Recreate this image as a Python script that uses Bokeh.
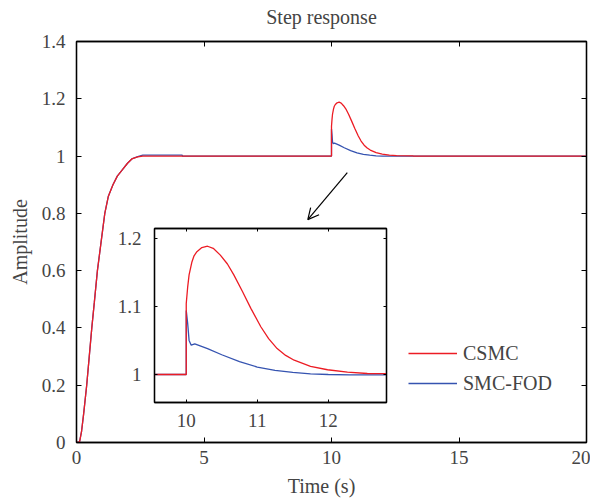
from bokeh.plotting import figure
from bokeh.models import (LinearAxis, FixedTicker, Arrow, OpenHead,
                          Legend, LegendItem)
from bokeh.layouts import column
from bokeh.embed import file_html
from bokeh.resources import INLINE

# ---------------- data ----------------
t_csmc = [0, 0.12, 0.2, 0.28, 0.4, 0.5, 0.6, 0.7, 0.82, 0.95, 1.11, 1.25, 1.43,
          1.6, 1.78, 2.0, 2.17, 2.4, 2.6, 4.2, 10.0, 10.0, 10.02, 10.04, 10.08,
          10.11, 10.15, 10.22, 10.3, 10.38, 10.48, 10.58, 10.67, 10.79, 10.91,
          11.05, 11.16, 11.28, 11.4, 11.52, 11.75, 11.99, 12.27, 12.55, 13.2,
          13.2, 20.0]
y_csmc = [0, 0.002, 0.04, 0.1, 0.2, 0.3, 0.4, 0.49, 0.6, 0.69, 0.8, 0.86, 0.9,
          0.93, 0.95, 0.975, 0.99, 0.997, 1.0, 1.0, 1.0, 1.104, 1.128, 1.146,
          1.165, 1.174, 1.18, 1.186, 1.188, 1.185, 1.175, 1.162, 1.146, 1.122,
          1.097, 1.07, 1.0525, 1.038, 1.028, 1.021, 1.012, 1.007, 1.0034,
          1.0015, 1.001, 1.0, 1.0]

t_fod = [0, 0.12, 0.2, 0.28, 0.4, 0.5, 0.6, 0.7, 0.82, 0.95, 1.11, 1.25, 1.43,
         1.6, 1.78, 2.0, 2.17, 2.4, 2.6, 4.15, 4.15, 10.0, 10.0, 10.02, 10.04,
         10.07, 10.12, 10.3, 10.5, 10.75, 11.0, 11.25, 11.5, 11.75, 12.0, 12.3,
         20.0]
y_fod = [0, 0.002, 0.04, 0.1, 0.2, 0.3, 0.4, 0.49, 0.6, 0.69, 0.8, 0.86, 0.9,
         0.93, 0.95, 0.975, 0.99, 0.998, 1.003, 1.003, 1.0, 1.0, 1.094, 1.075,
         1.05, 1.043, 1.045, 1.038, 1.029, 1.019, 1.011, 1.006, 1.003, 1.001,
         1.0, 0.9995, 0.9995]

series_names = ["CSMC", "SMC-FOD"]
series_colors = ["#ec1c24", "#3553b0"]

x_ticks = [0, 5, 10, 15, 20]
x_tick_labels = ["0", "5", "10", "15", "20"]
y_ticks = [0, 0.2, 0.4, 0.6, 0.8, 1.0, 1.2, 1.4]
y_tick_labels = ["0", "0.2", "0.4", "0.6", "0.8", "1", "1.2", "1.4"]

inset_x_ticks = [10, 11, 12]
inset_x_tick_labels = ["10", "11", "12"]
inset_y_ticks = [1.0, 1.1, 1.2]
inset_y_tick_labels = ["1", "1.1", "1.2"]

title_text = "Step response"
x_label = "Time (s)"
y_label = "Amplitude"

FONT = "Liberation Serif"

# ---------------- main figure ----------------
W, H = 590, 499
# frame in picture pixels: left 76, top 41, right 586, bottom 442
p = figure(width=W, height=H, x_range=(0, 20), y_range=(0, 1.4),
           toolbar_location=None, output_backend="svg", frame_align=False,
           min_border_left=76, min_border_right=W - 586, min_border_top=41,
           min_border_bottom=H - 442, outline_line_color="black",
           outline_line_width=1.3)
p.grid.visible = False


def style_axis(ax, size, tick_len, standoff):
    ax.axis_line_color = "black"
    ax.axis_line_width = 1.3
    ax.major_tick_in = tick_len
    ax.major_tick_out = 0
    ax.major_tick_line_color = "black"
    ax.major_tick_line_width = 1
    ax.minor_tick_line_color = None
    ax.major_label_text_font = FONT
    ax.major_label_text_font_size = size
    ax.major_label_standoff = standoff


p.xaxis[0].ticker = FixedTicker(ticks=x_ticks)
p.xaxis[0].major_label_overrides = dict(zip(x_ticks, x_tick_labels))
style_axis(p.xaxis[0], "19px", 5, 8)
p.yaxis[0].ticker = FixedTicker(ticks=y_ticks)
p.yaxis[0].major_label_overrides = dict(zip(y_ticks, y_tick_labels))
style_axis(p.yaxis[0], "19px", 5, 11)
p.yaxis[0].axis_label = y_label
p.yaxis[0].axis_label_text_font = FONT
p.yaxis[0].axis_label_text_font_size = "20px"
p.yaxis[0].axis_label_text_font_style = "normal"
p.yaxis[0].axis_label_standoff = 8

top_ax = LinearAxis(ticker=FixedTicker(ticks=x_ticks),
                    major_label_overrides={v: "" for v in x_ticks})
style_axis(top_ax, "1px", 5, 0)
p.add_layout(top_ax, "above")
right_ax = LinearAxis(ticker=FixedTicker(ticks=y_ticks),
                      major_label_overrides={v: "" for v in y_ticks})
style_axis(right_ax, "1px", 5, 0)
p.add_layout(right_ax, "right")

r_fod = p.line(t_fod, y_fod, line_color=series_colors[1], line_width=1.3)
r_csmc = p.line(t_csmc, y_csmc, line_color=series_colors[0], line_width=1.3)

legend = Legend(items=[LegendItem(label=series_names[0], renderers=[r_csmc]),
                       LegendItem(label=series_names[1], renderers=[r_fod])],
                location=(332, 47), border_line_color=None,
                background_fill_alpha=0, label_text_font=FONT,
                label_text_font_size="20px", glyph_width=49, glyph_height=24,
                label_height=24, spacing=6, padding=0, margin=0,
                label_standoff=6)
p.add_layout(legend)

arrow_start = (10.62, 0.942)
arrow_end = (9.07, 0.778)
p.add_layout(Arrow(x_start=arrow_start[0], y_start=arrow_start[1],
                   x_end=arrow_end[0], y_end=arrow_end[1],
                   line_color="black", line_width=1.2,
                   end=OpenHead(size=11, line_width=1.2, line_color="black")))

# ---------------- inset figure (same canvas size, overlaid) ----------------
# inset frame in picture pixels: left 154, top 228, right 386, bottom 402
inset = figure(width=W, height=H,
               x_range=(9.553, 12.82), y_range=(0.959, 1.214),
               toolbar_location=None, output_backend="svg", frame_align=False,
               min_border_left=154, min_border_right=W - 386,
               min_border_top=228, min_border_bottom=H - 402,
               background_fill_color="white",
               border_fill_alpha=0, outline_line_color="black",
               outline_line_width=1.3)
inset.grid.visible = False
inset.xaxis[0].ticker = FixedTicker(ticks=inset_x_ticks)
inset.xaxis[0].major_label_overrides = dict(zip(inset_x_ticks, inset_x_tick_labels))
style_axis(inset.xaxis[0], "19px", 3, 11)
inset.yaxis[0].ticker = FixedTicker(ticks=inset_y_ticks)
inset.yaxis[0].major_label_overrides = dict(zip(inset_y_ticks, inset_y_tick_labels))
style_axis(inset.yaxis[0], "19px", 3, 13)
it_ax = LinearAxis(ticker=FixedTicker(ticks=inset_x_ticks),
                   major_label_overrides={v: "" for v in inset_x_ticks})
style_axis(it_ax, "1px", 3, 0)
inset.add_layout(it_ax, "above")
ir_ax = LinearAxis(ticker=FixedTicker(ticks=inset_y_ticks),
                   major_label_overrides={v: "" for v in inset_y_ticks})
style_axis(ir_ax, "1px", 3, 0)
inset.add_layout(ir_ax, "right")

inset.line(t_fod, y_fod, line_color=series_colors[1], line_width=1.3)
inset.line(t_csmc, y_csmc, line_color=series_colors[0], line_width=1.3)
inset.margin = (-H, 0, 0, 0)

# ------- transparent overlay carrying the title and the x-axis label -------
# its (invisible) frame is centred where the reference centres these texts
TL, TR, TT, TB = 221, 421, 37, 465
tf = figure(width=W, height=H, x_range=(0, 1), y_range=(0, 1),
            toolbar_location=None, output_backend="svg", frame_align=False,
            y_axis_location=None,
            min_border_left=TL, min_border_right=W - TR,
            min_border_top=TT, min_border_bottom=H - TB,
            background_fill_alpha=0, border_fill_alpha=0,
            outline_line_color=None)
tf.grid.visible = False


def text_axis(ax, label, standoff):
    ax.ticker = FixedTicker(ticks=[])
    ax.axis_line_color = None
    ax.major_tick_line_color = None
    ax.minor_tick_line_color = None
    ax.major_label_text_font_size = "0px"
    ax.major_label_standoff = 0
    ax.major_tick_out = 0
    ax.major_tick_in = 0
    ax.axis_label = label
    ax.axis_label_text_font = FONT
    ax.axis_label_text_font_size = "20px"
    ax.axis_label_text_font_style = "normal"
    ax.axis_label_standoff = standoff


text_axis(tf.xaxis[0], x_label, 10)
title_ax = LinearAxis()
text_axis(title_ax, title_text, 10)
tf.add_layout(title_ax, "above")
tf.margin = (-H, 0, 0, 0)

layout = column(p, inset, tf, spacing=0)
open("out.html", "w").write(file_html(layout, INLINE))
